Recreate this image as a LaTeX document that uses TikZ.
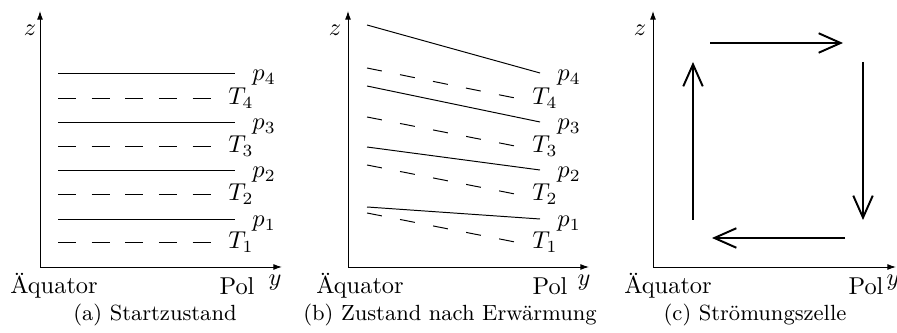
\documentclass[tikz,border=0pt]{standalone}
\usetikzlibrary{arrows.meta,positioning}
\tikzset{
  axis line/.style={-{Latex[length=3.5pt,width=2.4pt]}, line width=0.4pt},
  level p/.style={line width=0.4pt},
  level T/.style={line width=0.4pt, dash pattern=on 7.4pt off 6.4pt},
  level Tb/.style={line width=0.4pt, dash pattern=on 6.2pt off 7.6pt},
  level label/.style={inner sep=0pt, anchor=west},
  flow arrow/.style={-{Straight Barb[length=9pt,width=8pt]}, line width=0.8pt},
  caption text/.style={font=\small},
}
\begin{document}
\begin{tikzpicture}[x=0.41pt,y=0.41pt]
  \useasboundingbox (0,0) rectangle (897,333);

  % (a) Startzustand
  \coordinate (oa) at (40,66);
  \draw[axis line] (oa) -- (40,322) coordinate (za);
  \draw[axis line] (oa) -- (282,66) coordinate (ya);
  \node (zla) at (30,303) {$z$};
  \node (aqa) at (54,47) {Äquator};
  \node (pola) at (237,47) {Pol};
  \node (yla) at (275,50) {$y$};
  \foreach \i/\yp/\yt in {1/114/91, 2/163/139, 3/211/187, 4/260/235} {
    \draw[level p] (58,\yp) -- (235,\yp)
      node[level label, shift={(17,-5)}] (pa\i) {$p_\i$};
    \draw[level T] (58,\yt) -- (212,\yt)
      node[level label, shift={(16,0)}] (Ta\i) {$T_\i$};
  }
  \node[caption text] (capa) at (155,18) {(a) Startzustand};

  % (b) Zustand nach Erwaermung
  \coordinate (ob) at (348,66);
  \draw[axis line] (ob) -- (348,322) coordinate (zb);
  \draw[axis line] (ob) -- (589,66) coordinate (yb);
  \node (zlb) at (335,303) {$z$};
  \node (aqb) at (360,47) {Äquator};
  \node (polb) at (550,47) {Pol};
  \node (ylb) at (584,50) {$y$};
  \foreach \i/\ypl/\ypr/\ytl/\ytr in {1/126/114/120/91, 2/186/163/168/139,
                                      3/247/211/216/187, 4/308/260/265/235} {
    \draw[level p] (367,\ypl) -- (540,\ypr)
      node[level label, shift={(17,-5)}] (pb\i) {$p_\i$};
    \draw[level Tb] (367,\ytl) -- (515,\ytr)
      node[level label, shift={(17,0)}] (Tb\i) {$T_\i$};
  }
  \node[caption text] (capb) at (450,18) {(b) Zustand nach Erwärmung};

  % (c) Stroemungszelle
  \coordinate (oc) at (653,66);
  \draw[axis line] (oc) -- (653,322) coordinate (zc);
  \draw[axis line] (oc) -- (896,66) coordinate (yc);
  \node (zlc) at (640,303) {$z$};
  \node (aqc) at (668,47) {Äquator};
  \node (polc) at (866,47) {Pol};
  \node (ylc) at (893,50) {$y$};
  \coordinate (tl) at (710,290);
  \coordinate (tr) at (843,290);
  \coordinate (rt) at (863,271);
  \coordinate (rb) at (863,113);
  \coordinate (br) at (845,95);
  \coordinate (bl) at (712,95);
  \coordinate (lb) at (693,113);
  \coordinate (lt) at (693,271);
  \draw[flow arrow] (tl) -- (tr);
  \draw[flow arrow] (rt) -- (rb);
  \draw[flow arrow] (br) -- (bl);
  \draw[flow arrow] (lb) -- (lt);
  \node[caption text] (capc) at (755,18) {(c) Strömungszelle};
\end{tikzpicture}
\end{document}
